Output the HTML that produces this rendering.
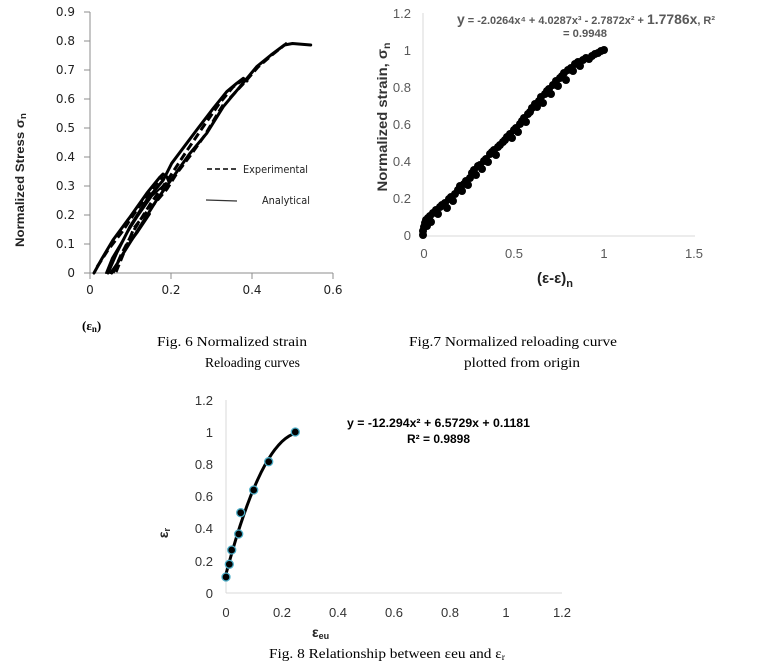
<!DOCTYPE html>
<html><head><meta charset="utf-8"><style>
html,body{margin:0;padding:0;background:#fff;}
svg{display:block;}
.s1{font-family:"DejaVu Sans","Liberation Sans",sans-serif;font-size:12px;fill:#222;}
.s2{font-family:"Liberation Sans",sans-serif;font-size:13px;fill:#595959;}
.s3{font-family:"Liberation Sans",sans-serif;font-size:13px;fill:#333;}
.cap{font-family:"Liberation Serif",serif;font-size:14px;fill:#000;}
</style></head><body>
<svg width="758" height="670" viewBox="0 0 758 670" xmlns="http://www.w3.org/2000/svg">
<rect width="758" height="670" fill="#fff"/>

<!-- ========== Chart 1 ========== -->
<g stroke="#8c8c8c" stroke-width="1" fill="none">
  <line x1="90" y1="12" x2="90" y2="273"/>
  <line x1="90" y1="273" x2="333" y2="273"/>
  <line x1="84" y1="273" x2="90" y2="273"/>
  <line x1="84" y1="244" x2="90" y2="244"/>
  <line x1="84" y1="215" x2="90" y2="215"/>
  <line x1="84" y1="186" x2="90" y2="186"/>
  <line x1="84" y1="157" x2="90" y2="157"/>
  <line x1="84" y1="128" x2="90" y2="128"/>
  <line x1="84" y1="99" x2="90" y2="99"/>
  <line x1="84" y1="70" x2="90" y2="70"/>
  <line x1="84" y1="41" x2="90" y2="41"/>
  <line x1="84" y1="12" x2="90" y2="12"/>
  <line x1="90" y1="273" x2="90" y2="279"/>
  <line x1="171" y1="273" x2="171" y2="279"/>
  <line x1="252" y1="273" x2="252" y2="279"/>
  <line x1="333" y1="273" x2="333" y2="279"/>
</g>
<g class="s1" text-anchor="end">
  <text x="75" y="277">0</text>
  <text x="75" y="248">0.1</text>
  <text x="75" y="219">0.2</text>
  <text x="75" y="190">0.3</text>
  <text x="75" y="161">0.4</text>
  <text x="75" y="132">0.5</text>
  <text x="75" y="103">0.6</text>
  <text x="75" y="74">0.7</text>
  <text x="75" y="45">0.8</text>
  <text x="75" y="16">0.9</text>
</g>
<g class="s1" text-anchor="middle">
  <text x="90" y="294">0</text>
  <text x="171" y="294">0.2</text>
  <text x="252" y="294">0.4</text>
  <text x="333" y="294">0.6</text>
</g>
<text transform="translate(24,180) rotate(-90)" text-anchor="middle" font-family="Liberation Sans,sans-serif" font-weight="bold" font-size="12" fill="#222" textLength="134" lengthAdjust="spacingAndGlyphs">Normalized Stress σ<tspan font-size="9" dy="2">n</tspan></text>
<text x="82" y="330" font-family="Liberation Serif,serif" font-weight="bold" font-size="13" fill="#000">(ε<tspan font-size="9" dy="2">n</tspan><tspan dy="-2">)</tspan></text>

<!-- curves -->
<g fill="none" stroke="#000" stroke-width="3" stroke-linejoin="round" stroke-linecap="round">
  <polyline points="94,273 102,258.5 113,240 130,217 147,193 160,177 163,174 167,177 169,182"/>
  <polyline points="108,273 116.7,253 130,226.7 146.7,200 163.3,180 171.7,163.3 186.7,143.3 196.7,130 213.3,108.3 226.7,91.7 236.7,83.3 243.3,78.3 247,81"/>
  <polyline points="111.7,273 123.3,253.3 140,226.7 156.7,200 173.3,176.7 190,153.3 206.7,133.3 223.3,106.7 240,86.7 256.7,66.7 271,55 284.4,45 292.5,43.5 310.7,45"/>
  <polyline stroke-width="2" points="106,273 112,258 124,238 138,216 152,196 166,183"/>
  <polyline stroke-width="2" points="110,273 118,262 126,248 138,232 150,214"/>
</g>
<g fill="none" stroke="#000" stroke-width="3" stroke-dasharray="8,4">
  <polyline points="113,273 121,255 134,230 151,203 169,178 186,152 203,127 219,104 233,87 244,79"/>
  <polyline points="230,98 245,82 258,67 272,55 287,43"/>
  <polyline points="97,267 108,250 122,232 138,208 152,189 163,176"/>
  <polyline points="116,272 125,250 134,228 145,214 155,203 167,189 177,173 190,156 205,135 218,113 225,102"/>
</g>
<!-- legend -->
<line x1="207" y1="169" x2="236" y2="169" stroke="#000" stroke-width="1.6" stroke-dasharray="5,3"/>
<text x="243" y="173" font-family="DejaVu Sans,sans-serif" font-size="11" fill="#222" textLength="65" lengthAdjust="spacingAndGlyphs">Experimental</text>
<line x1="206" y1="200" x2="237" y2="201" stroke="#333" stroke-width="1.2"/>
<text x="262" y="204" font-family="DejaVu Sans,sans-serif" font-size="11" fill="#222" textLength="48" lengthAdjust="spacingAndGlyphs">Analytical</text>

<text class="cap" x="157" y="346" textLength="150" lengthAdjust="spacingAndGlyphs">Fig. 6 Normalized strain</text>
<text class="cap" x="205" y="367" textLength="95" lengthAdjust="spacingAndGlyphs">Reloading curves</text>

<!-- ========== Chart 2 ========== -->
<g stroke="#d9d9d9" stroke-width="1">
  <line x1="423" y1="13" x2="423" y2="236"/>
  <line x1="423" y1="236" x2="695" y2="236"/>
</g>
<g class="s2" text-anchor="end">
  <text x="411" y="240">0</text>
  <text x="411" y="203">0.2</text>
  <text x="411" y="166">0.4</text>
  <text x="411" y="129">0.6</text>
  <text x="411" y="92">0.8</text>
  <text x="411" y="55">1</text>
  <text x="411" y="18">1.2</text>
</g>
<g class="s2" text-anchor="middle">
  <text x="424" y="258">0</text>
  <text x="514" y="258">0.5</text>
  <text x="604" y="258">1</text>
  <text x="694" y="258">1.5</text>
</g>
<text transform="translate(387,117) rotate(-90)" text-anchor="middle" font-family="Liberation Sans,sans-serif" font-weight="bold" font-size="14" fill="#333" textLength="149" lengthAdjust="spacingAndGlyphs">Normalized strain, σ<tspan font-size="10" dy="3">n</tspan></text>
<text x="537" y="283" font-family="Liberation Sans,sans-serif" font-weight="bold" font-size="15" fill="#222">(ε-ε)<tspan font-size="11" dy="4">n</tspan></text>
<text x="457" y="24" font-family="Liberation Sans,sans-serif" font-weight="bold" font-size="11" fill="#595959" textLength="258" lengthAdjust="spacingAndGlyphs"><tspan font-size="14">y</tspan> = -2.0264x⁴ + 4.0287x³ - 2.7872x² + <tspan font-size="14">1.7786x</tspan>, R²</text>
<text x="563" y="37" font-family="Liberation Sans,sans-serif" font-weight="bold" font-size="11" fill="#595959" textLength="44" lengthAdjust="spacingAndGlyphs">= 0.9948</text>

<g fill="#000">
<circle cx="423" cy="235" r="4"/><circle cx="423" cy="231" r="4"/><circle cx="424" cy="227" r="4"/><circle cx="425" cy="223" r="4"/>
<circle cx="426" cy="220" r="4"/><circle cx="428" cy="218" r="4"/><circle cx="430" cy="216" r="4"/><circle cx="427" cy="226" r="4"/>
<circle cx="431" cy="222" r="4"/><circle cx="433" cy="213" r="4"/><circle cx="436" cy="210" r="4"/><circle cx="438" cy="214" r="4"/>
<circle cx="440" cy="207" r="4"/><circle cx="442" cy="205" r="4"/><circle cx="445" cy="203" r="4"/><circle cx="447" cy="208" r="4"/>
<circle cx="449" cy="199" r="4"/><circle cx="451" cy="197" r="4"/><circle cx="453" cy="201" r="4"/><circle cx="455" cy="194" r="4"/>
<circle cx="458" cy="190" r="4"/><circle cx="460" cy="186" r="4"/><circle cx="462" cy="191" r="4"/><circle cx="464" cy="184" r="4"/>
<circle cx="466" cy="181" r="4"/><circle cx="468" cy="185" r="4"/><circle cx="470" cy="178" r="4"/><circle cx="472" cy="173" r="4"/>
<circle cx="474" cy="170" r="4"/><circle cx="476" cy="175" r="4"/><circle cx="478" cy="166" r="4"/><circle cx="480" cy="165" r="4"/>
<circle cx="482" cy="169" r="4"/><circle cx="484" cy="161" r="4"/><circle cx="486" cy="159" r="4"/><circle cx="488" cy="162" r="4"/>
<circle cx="490" cy="154" r="4"/><circle cx="492" cy="152" r="4"/><circle cx="494" cy="150" r="4"/><circle cx="496" cy="155" r="4"/>
<circle cx="498" cy="147" r="4"/><circle cx="500" cy="145" r="4"/><circle cx="503" cy="142" r="4"/><circle cx="505" cy="140" r="4"/>
<circle cx="507" cy="137" r="4"/><circle cx="510" cy="134" r="4"/><circle cx="512" cy="138" r="4"/><circle cx="514" cy="130" r="4"/>
<circle cx="516" cy="128" r="4"/><circle cx="518" cy="132" r="4"/><circle cx="520" cy="124" r="4"/><circle cx="522" cy="121" r="4"/>
<circle cx="524" cy="118" r="4"/><circle cx="526" cy="122" r="4"/><circle cx="528" cy="114" r="4"/><circle cx="530" cy="112" r="4"/>
<circle cx="532" cy="108" r="4"/><circle cx="535" cy="104" r="4"/><circle cx="537" cy="107" r="4"/><circle cx="539" cy="101" r="4"/>
<circle cx="541" cy="97" r="4"/><circle cx="543" cy="103" r="4"/><circle cx="545" cy="94" r="4"/><circle cx="547" cy="91" r="4"/>
<circle cx="549" cy="89" r="4"/><circle cx="551" cy="94" r="4"/><circle cx="553" cy="85" r="4"/><circle cx="556" cy="81" r="4"/>
<circle cx="558" cy="86" r="4"/><circle cx="560" cy="78" r="4"/><circle cx="562" cy="76" r="4"/><circle cx="564" cy="73" r="4"/>
<circle cx="566" cy="80" r="4"/><circle cx="568" cy="70" r="4"/><circle cx="571" cy="68" r="4"/><circle cx="573" cy="71" r="4"/>
<circle cx="575" cy="64" r="4"/><circle cx="578" cy="62" r="4"/><circle cx="580" cy="66" r="4"/><circle cx="583" cy="60" r="4"/>
<circle cx="586" cy="58" r="4"/><circle cx="589" cy="59" r="4"/><circle cx="592" cy="56" r="4"/><circle cx="595" cy="54" r="4"/>
<circle cx="598" cy="53" r="4"/><circle cx="601" cy="51" r="4"/><circle cx="604" cy="50" r="4"/>
</g>

<text class="cap" x="409" y="346" textLength="208" lengthAdjust="spacingAndGlyphs">Fig.7 Normalized reloading curve</text>
<text class="cap" x="464" y="367" textLength="116" lengthAdjust="spacingAndGlyphs">plotted from origin</text>

<!-- ========== Chart 3 ========== -->
<g stroke="#d9d9d9" stroke-width="1">
  <line x1="226" y1="400" x2="226" y2="593"/>
  <line x1="226" y1="593" x2="562" y2="593"/>
</g>
<g class="s3" text-anchor="end">
  <text x="213" y="598">0</text>
  <text x="213" y="566">0.2</text>
  <text x="213" y="533">0.4</text>
  <text x="213" y="501">0.6</text>
  <text x="213" y="469">0.8</text>
  <text x="213" y="437">1</text>
  <text x="213" y="405">1.2</text>
</g>
<g class="s3" text-anchor="middle">
  <text x="226" y="617">0</text>
  <text x="282" y="617">0.2</text>
  <text x="338" y="617">0.4</text>
  <text x="394" y="617">0.6</text>
  <text x="450" y="617">0.8</text>
  <text x="506" y="617">1</text>
  <text x="562" y="617">1.2</text>
</g>
<text transform="translate(168,533) rotate(-90)" text-anchor="middle" font-family="Liberation Sans,sans-serif" font-weight="bold" font-size="14" fill="#222">ε<tspan font-size="9" dy="2">r</tspan></text>
<text x="312" y="637" font-family="Liberation Sans,sans-serif" font-weight="bold" font-size="14" fill="#222">ε<tspan font-size="9" dy="2">eu</tspan></text>
<text x="347" y="427" font-family="Liberation Sans,sans-serif" font-weight="bold" font-size="12" fill="#000" textLength="183" lengthAdjust="spacingAndGlyphs">y = -12.294x² + 6.5729x + 0.1181</text>
<text x="407" y="443" font-family="Liberation Sans,sans-serif" font-weight="bold" font-size="12" fill="#000" textLength="63" lengthAdjust="spacingAndGlyphs">R² = 0.9898</text>

<polyline fill="none" stroke="#000" stroke-width="3" stroke-linejoin="round" stroke-linecap="round" points="226,574 229.5,561.1 233,548.8 236.5,537.1 240,526 243.5,515.6 247,505.8 250.5,496.5 254,487.9 257.5,480 261,472.6 264.5,465.9 268,459.8 271.5,454.3 275,449.4 278.5,445.2 282,441.5 285.5,438.5 289,436.1 292.5,434.3 296,433.1"/>
<g fill="#000" stroke="#4bacc6" stroke-width="1.3">
  <circle cx="226" cy="577" r="4"/>
  <circle cx="229.3" cy="564.3" r="4"/>
  <circle cx="231.7" cy="550" r="4"/>
  <circle cx="238.7" cy="534" r="4"/>
  <circle cx="240.7" cy="512.7" r="4"/>
  <circle cx="253.7" cy="490" r="4"/>
  <circle cx="268.7" cy="461.7" r="4"/>
  <circle cx="295.3" cy="432" r="4"/>
</g>

<text class="cap" x="269" y="658" textLength="236" lengthAdjust="spacingAndGlyphs">Fig. 8 Relationship between εeu and ε<tspan font-size="9" dy="2">r</tspan></text>
</svg>
</body></html>
